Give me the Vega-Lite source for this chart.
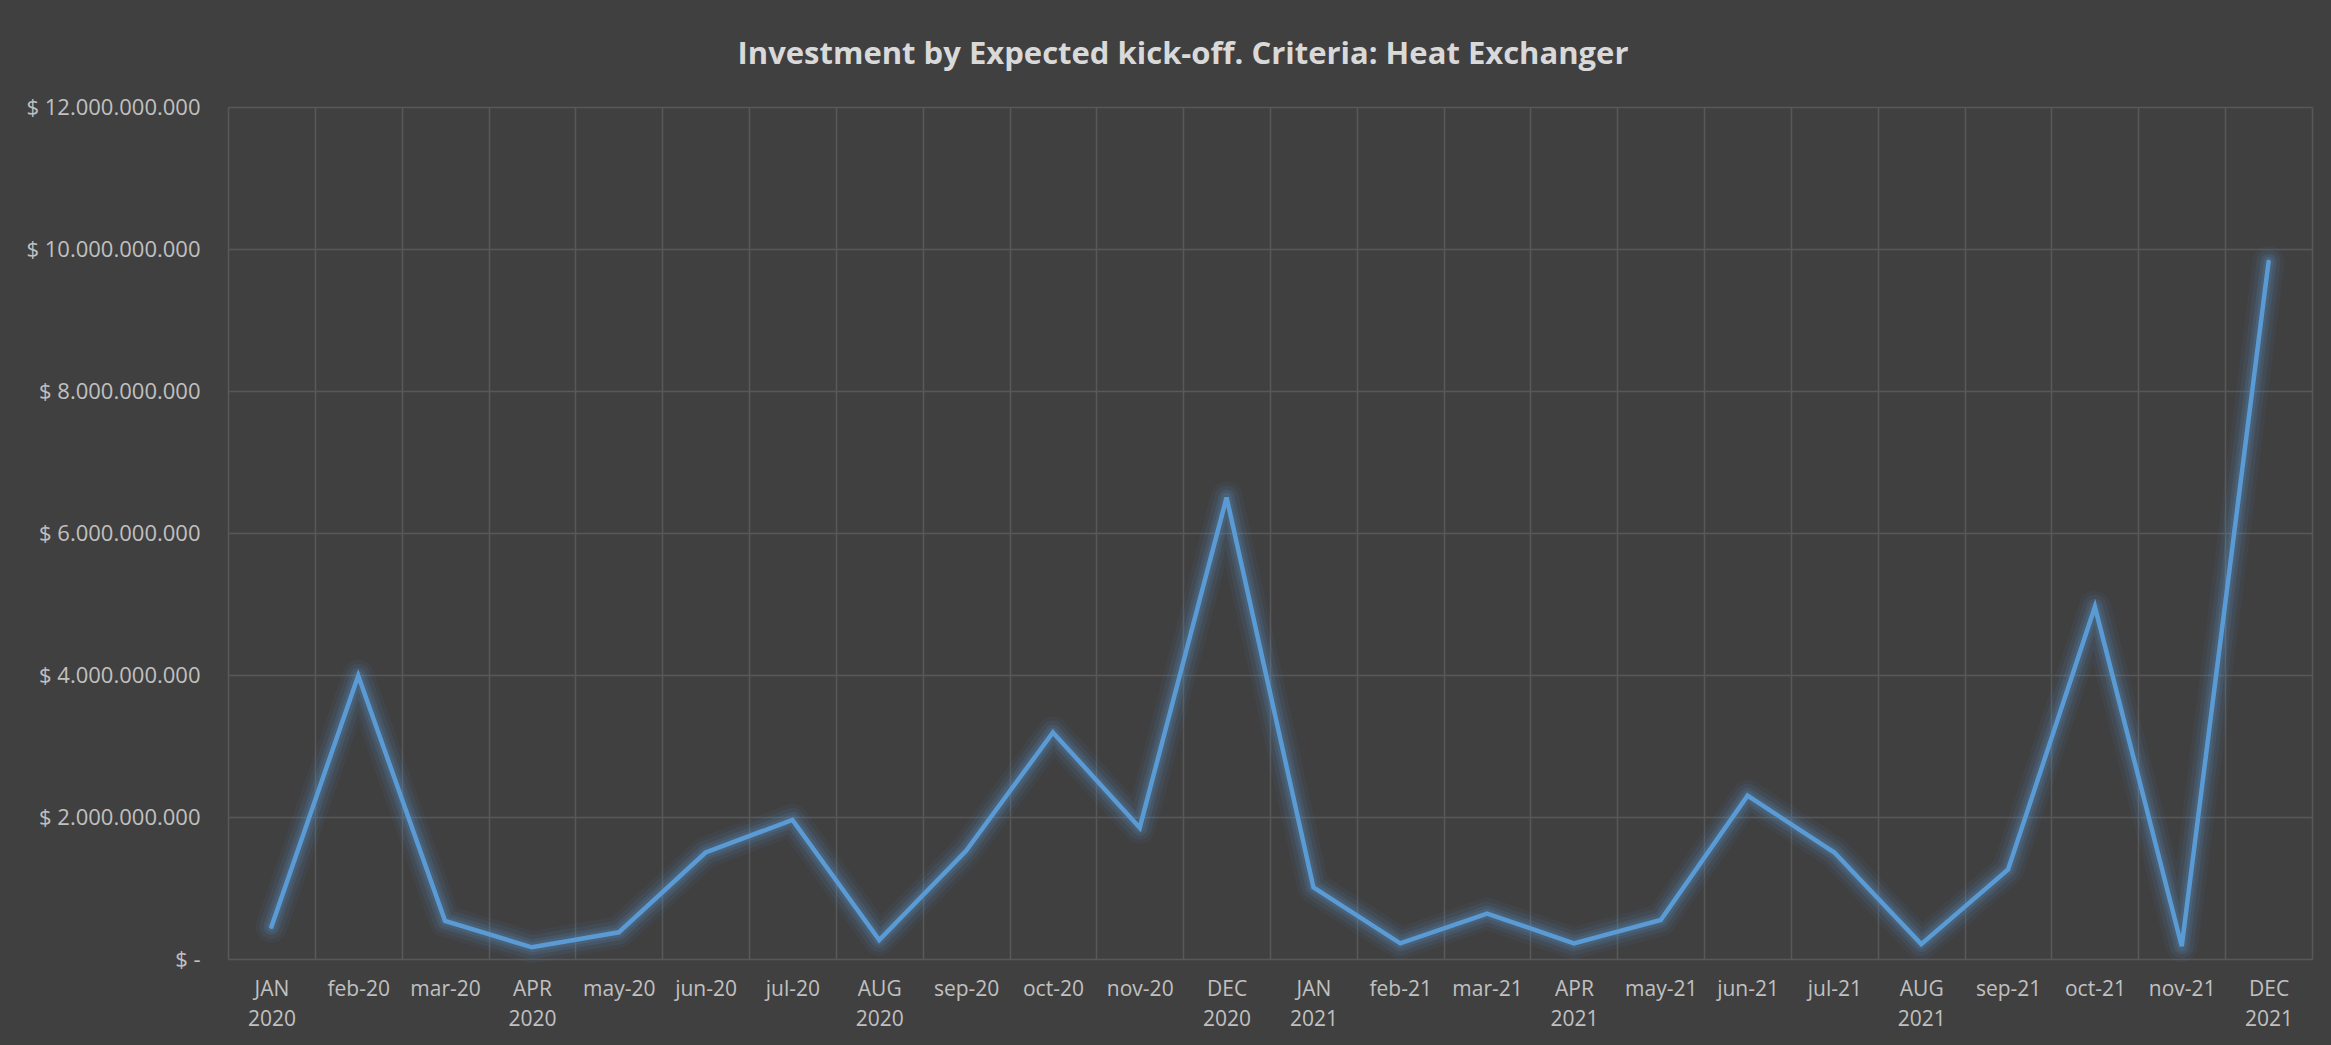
{
  "$schema": "https://vega.github.io/schema/vega-lite/v6.json",
  "width": 2084,
  "height": 852,
  "autosize": {"type": "none"},
  "padding": {"left": 228, "top": 107, "right": 19, "bottom": 86},
  "background": "#404040",
  "title": {
    "text": "Investment by Expected kick-off. Criteria: Heat Exchanger",
    "color": "#d9d9d9",
    "font": "Open Sans",
    "fontSize": 31,
    "fontWeight": "bold",
    "anchor": "middle",
    "frame": "group",
    "dx": -87,
    "offset": 25
  },
  "data": {
    "values": [
      {"month": "JAN 2020", "investment": 455000000},
      {"month": "feb-20", "investment": 3990000000},
      {"month": "mar-20", "investment": 535000000},
      {"month": "APR 2020", "investment": 165000000},
      {"month": "may-20", "investment": 376000000},
      {"month": "jun-20", "investment": 1500000000},
      {"month": "jul-20", "investment": 1960000000},
      {"month": "AUG 2020", "investment": 268000000},
      {"month": "sep-20", "investment": 1525000000},
      {"month": "oct-20", "investment": 3190000000},
      {"month": "nov-20", "investment": 1850000000},
      {"month": "DEC 2020", "investment": 6500000000},
      {"month": "JAN 2021", "investment": 1010000000},
      {"month": "feb-21", "investment": 220000000},
      {"month": "mar-21", "investment": 640000000},
      {"month": "APR 2021", "investment": 220000000},
      {"month": "may-21", "investment": 550000000},
      {"month": "jun-21", "investment": 2300000000},
      {"month": "jul-21", "investment": 1500000000},
      {"month": "AUG 2021", "investment": 210000000},
      {"month": "sep-21", "investment": 1260000000},
      {"month": "oct-21", "investment": 4960000000},
      {"month": "nov-21", "investment": 180000000},
      {"month": "DEC 2021", "investment": 9820000000}
    ]
  },
  "encoding": {
    "x": {
      "field": "month",
      "type": "nominal",
      "sort": null,
      "scale": {"type": "band", "paddingInner": 0, "paddingOuter": 0},
      "axis": {
        "title": null,
        "labelAngle": 0,
        "labelExpr": "split(datum.label, ' ')",
        "labelFont": "Open Sans",
        "labelFontSize": 21,
        "labelColor": "#c0c0c0",
        "labelLineHeight": 30,
        "labelPadding": 19,
        "labelBaseline": "top",
        "ticks": false,
        "domain": false,
        "grid": true,
        "tickBand": "extent",
        "gridColor": "#585858",
        "gridWidth": 1.5
      }
    },
    "y": {
      "field": "investment",
      "type": "quantitative",
      "scale": {"domain": [0, 12000000000], "nice": false},
      "axis": {
        "title": null,
        "values": [0, 2000000000, 4000000000, 6000000000, 8000000000, 10000000000, 12000000000],
        "labelExpr": "datum.value == 0 ? '$ -\u00a0\u00a0' : '$ ' + replace(format(datum.value, ','), regexp(',', 'g'), '.')",
        "labelFont": "Open Sans",
        "labelFontSize": 22,
        "labelColor": "#c0c0c0",
        "labelPadding": 28,
        "ticks": false,
        "domain": false,
        "grid": true,
        "gridColor": "#585858",
        "gridWidth": 1.5
      }
    }
  },
  "layer": [
    {"mark": {"type": "line", "color": "#5B9BD5", "strokeWidth": 32, "opacity": 0.06, "strokeCap": "round", "strokeJoin": "round"}},
    {"mark": {"type": "line", "color": "#5B9BD5", "strokeWidth": 24, "opacity": 0.09, "strokeCap": "round", "strokeJoin": "round"}},
    {"mark": {"type": "line", "color": "#5B9BD5", "strokeWidth": 16, "opacity": 0.13, "strokeCap": "round", "strokeJoin": "round"}},
    {"mark": {"type": "line", "color": "#5B9BD5", "strokeWidth": 10, "opacity": 0.16, "strokeCap": "round", "strokeJoin": "round"}},
    {"mark": {"type": "line", "color": "#5B9BD5", "strokeWidth": 4.5, "strokeCap": "round", "strokeJoin": "miter"}}
  ],
  "config": {"view": {"stroke": null}}
}
